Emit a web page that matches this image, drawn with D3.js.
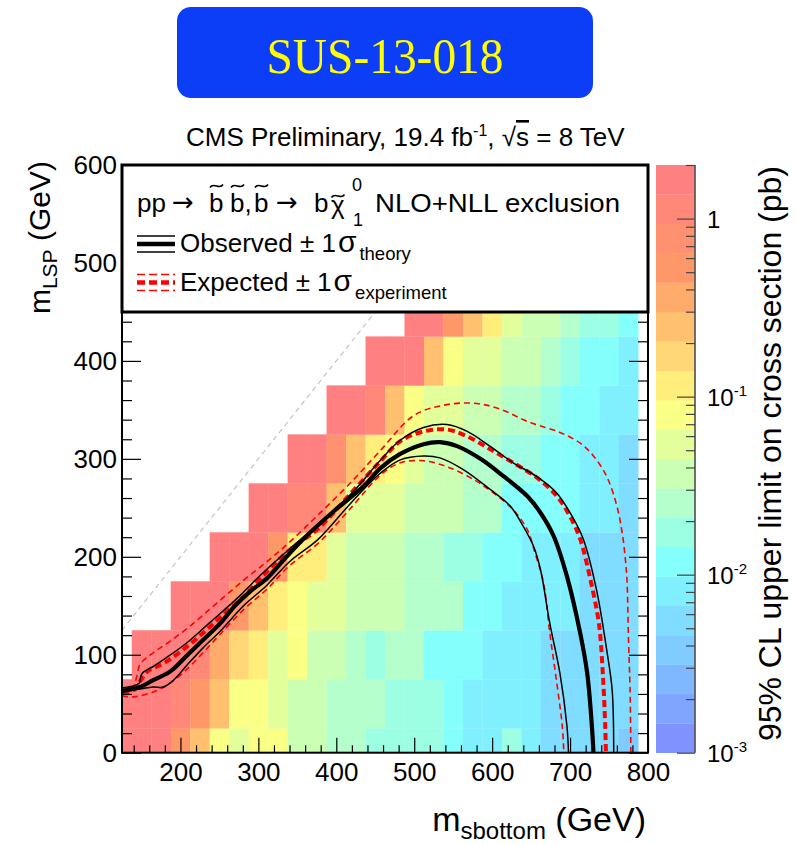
<!DOCTYPE html>
<html>
<head>
<meta charset="utf-8">
<script src="https://cdn.jsdelivr.net/npm/d3@7"></script>
<style>
body { margin: 0; background: #fff; }
svg text { font-family: "Liberation Sans", Arial, Helvetica, sans-serif; }
</style>
</head>
<body>
<div id="chart"></div>
<script>
// scan grid
var msbottom = [125,150,175,200,225,250,275,300,325,350,375,400,425,450,475,500,525,550,575,600,625,650,675,700,725,750,775]
var mlsp = [0,50,100,150,200,250,300,350,400,450]

// 95% CL upper limit on cross section (pb), one array per mLSP row (null = no point)
var limit0   = [1.7,1.7,1.7,0.53,0.25,0.079,0.054,0.079,0.079,0.037,0.037,0.025,0.025,0.017,0.017,0.017,0.017,0.012,0.0081,0.0081,0.017,0.0081,0.0055,0.0055,0.0055,0.0055,0.0038]
var limit50  = [1.7,1.7,1.7,1.1,0.53,0.25,0.079,0.079,0.054,0.037,0.037,0.025,0.025,0.025,0.017,0.017,0.017,0.012,0.0081,0.0081,0.0081,0.0081,0.0055,0.0055,0.0055,0.0055,0.0055]
var limit100 = [null,1.7,1.7,1.7,1.1,0.36,0.2,0.12,0.054,0.079,0.037,0.037,0.025,0.017,0.025,0.025,0.012,0.012,0.012,0.0081,0.0081,0.0081,0.0055,0.0055,0.0055,0.0055,0.0055]
var limit150 = [null,null,null,1.7,1.7,1.7,0.53,0.25,0.12,0.079,0.054,0.054,0.037,0.037,0.037,0.025,0.025,0.025,0.012,0.012,0.0081,0.0081,0.0081,0.0081,0.0055,0.0055,0.0055]
var limit200 = [null,null,null,null,null,1.7,1.7,1.7,0.53,0.12,0.12,0.054,0.037,0.037,0.037,0.025,0.025,0.017,0.017,0.012,0.012,0.0081,0.0081,0.0081,0.0055,0.0055,0.0055]
var limit250 = [null,null,null,null,null,null,null,1.7,1.7,1.1,1.1,0.21,0.054,0.054,0.054,0.037,0.037,0.037,0.025,0.025,0.012,0.012,0.012,0.012,0.0081,0.0081,0.0055]
var limit300 = [null,null,null,null,null,null,null,null,null,1.7,1.7,0.77,0.25,0.12,0.079,0.054,0.037,0.037,0.025,0.025,0.017,0.017,0.012,0.012,0.0081,0.0081,0.0055]
var limit350 = [null,null,null,null,null,null,null,null,null,null,null,1.7,1.7,1.1,0.25,0.079,0.054,0.054,0.037,0.037,0.025,0.025,0.017,0.012,0.012,0.0081,0.0081]
var limit400 = [null,null,null,null,null,null,null,null,null,null,null,null,null,1.7,1.7,1.7,0.25,0.079,0.054,0.054,0.037,0.037,0.025,0.017,0.012,0.012,0.0081]
var limit450 = [null,null,null,null,null,null,null,null,null,null,null,null,null,null,null,1.7,1.7,0.53,0.25,0.12,0.054,0.037,0.037,0.025,0.017,0.017,0.012]
var limitRows = [limit0,limit50,limit100,limit150,limit200,limit250,limit300,limit350,limit400,limit450]

// exclusion contours, [m_sbottom, m_LSP]
var observed = [[125,63],[148,67],[165,74],[187,83],[208,99],[229,115],[251,132],[270,150],[290,165],[311,178],[336,200],[360,220],[396,246],[435,272],[456,290],[482,305],[512,315],[533,317],[555,313],[585,300],[615,282],[645,262],[662,245],[679,221],[696,180],[713,122],[722,81],[728,27],[730,0]]
var observedUp = [[125,66],[147,71],[149,78],[152,82],[165,88],[182,97],[208,112],[238,133],[272,157],[305,183],[340,208],[377,233],[420,265],[456,298],[482,319],[512,332],[542,335],[568,328],[597,313],[627,296],[657,282],[683,265],[700,245],[717,218],[734,166],[747,105],[754,64],[756,0]]
var observedDown = [[125,62],[148,65],[165,67],[178,67],[191,74],[208,89],[229,107],[251,124],[281,150],[311,171],[340,195],[377,218],[420,256],[456,285],[482,299],[512,303],[533,301],[563,289],[597,269],[623,252],[640,231],[653,211],[662,187],[674,132],[687,81],[696,27],[698,0]]
var expected = [[125,61],[140,64],[150,75],[159,84],[170,88],[182,93],[208,108],[230,123],[251,138],[278,157],[311,185],[340,207],[377,229],[420,266],[456,297],[482,318],[512,328],[542,330],[568,323],[597,310],[627,296],[657,281],[683,262],[700,241],[713,218],[726,177],[737,132],[742,81],[745,30],[746,0]]
var expectedUp = [[125,62],[135,63],[140,68],[144,78],[148,90],[165,102],[187,114],[215,131],[247,153],[281,176],[311,195],[340,215],[377,243],[420,277],[456,308],[499,344],[533,354],[572,357],[606,352],[649,337],[687,327],[713,316],[730,303],[747,282],[760,252],[767,224],[771,197],[773,177],[775,115],[777,64],[778,0]]
var expectedDown = [[125,58],[140,57],[165,62],[185,70],[208,85],[230,103],[251,121],[281,146],[311,167],[340,191],[377,214],[420,251],[456,283],[482,296],[512,298],[542,292],[576,279],[602,265],[627,248],[645,228],[655,204],[666,173],[674,122],[683,71],[690,27],[692,0]]

var xTicks = [200,300,400,500,600,700,800]
var yTicks = [0,100,200,300,400,500,600]
var zTicks = [0.001,0.01,0.1,1]
var zRange = [0.001, 2]

var plot = {left: 122, right: 648, top: 165, bottom: 752.7}
var nLevels = 20

var svg = d3.select("#chart").append("svg")
    .attr("width", 796).attr("height", 845)

var x = d3.scaleLinear().domain([125, 800]).range([plot.left, plot.right])
var y = d3.scaleLinear().domain([0, 600]).range([plot.bottom, plot.top])
var z = d3.scaleLog().domain(zRange).range([plot.bottom, plot.top])

// pastel rainbow palette used for SUSY limit plots
var palette = d3.scaleLinear()
  .domain([0, 0.34, 0.61, 0.84, 1])
  .range(["#8080ff","#80ffff","#ffff80","#ff9966","#ff8080"])
  .interpolate(d3.interpolateRgb)

var lz0 = Math.log10(zRange[0]), lz1 = Math.log10(zRange[1])
var levelOf = function(v){
  var k = Math.floor((Math.log10(v) - lz0) / (lz1 - lz0) * nLevels)
  return Math.max(0, Math.min(nLevels - 1, k))
}
var levelColor = function(k){ return palette((k + 0.99) / nLevels) }

// title box
svg.append("rect")
  .attr("x", 177).attr("y", 7).attr("width", 416).attr("height", 91)
  .attr("rx", 14).attr("fill", "#0d3ef7")
svg.append("text")
  .attr("x", 385).attr("y", 73).attr("text-anchor", "middle")
  .attr("font-size", 50).attr("fill", "#ffff00")
  .style("font-family", "'Liberation Serif', 'Times New Roman', serif")
  .attr("textLength", 237).attr("lengthAdjust", "spacingAndGlyphs")
  .text("SUS-13-018")

var head = svg.append("text").attr("x", 186).attr("y", 146).attr("font-size", 26)
head.append("tspan").text("CMS Preliminary, 19.4 fb")
head.append("tspan").attr("font-size", 16).attr("dy", -10).text("-1")
head.append("tspan").attr("dy", 10).text(", \u221a")
head.append("tspan").style("text-decoration", "overline").text("s")
head.append("tspan").text(" = 8 TeV")

// clip
svg.append("clipPath").attr("id", "plotClip")
  .append("rect").attr("x", plot.left).attr("y", plot.top)
  .attr("width", plot.right - plot.left).attr("height", plot.bottom - plot.top)

var area = svg.append("g").attr("clip-path", "url(#plotClip)")

// cells
var cells = []
limitRows.forEach(function(row, j){
  row.forEach(function(v, i){
    if (v != null) cells.push({m: msbottom[i], l: mlsp[j], v: v})
  })
})
area.selectAll("rect.cell")
  .data(cells)
  .enter()
  .append("rect")
    .attr("class", "cell")
    .attr("x", function(d){ return x(Math.max(d.m - 12.5, 125)) })
    .attr("width", function(d){ return x(Math.min(d.m + 12.5, 800)) - x(Math.max(d.m - 12.5, 125)) + 0.3 })
    .attr("y", function(d){ return y(Math.min(d.l + 25, 600)) })
    .attr("height", function(d){ return y(Math.max(d.l - 25, 0)) - y(Math.min(d.l + 25, 600)) + 0.3 })
    .attr("fill", function(d){ return levelColor(levelOf(d.v)) })

// kinematic diagonal
area.append("line")
  .attr("x1", x(125)).attr("y1", y(125)).attr("x2", x(600)).attr("y2", y(600))
  .attr("stroke", "#c4c4c4").attr("stroke-width", 1.2).attr("stroke-dasharray", "5,4")

var line = d3.line()
  .x(function(d){ return x(d[0]) })
  .y(function(d){ return y(d[1]) })
  .curve(d3.curveCatmullRom.alpha(0.5))

var curves = [
  {data: expectedUp, color: "#ff0000", width: 1.6, dash: "6,4"},
  {data: expectedDown, color: "#ff0000", width: 1.6, dash: "6,4"},
  {data: expected, color: "#ff0000", width: 4, dash: "7,4"},
  {data: observedUp, color: "#000", width: 1.5, dash: null},
  {data: observedDown, color: "#000", width: 1.5, dash: null},
  {data: observed, color: "#000", width: 4.2, dash: null}
]
curves.forEach(function(c){
  area.append("path")
    .datum(c.data)
    .attr("fill", "none")
    .attr("stroke", c.color)
    .attr("stroke-width", c.width)
    .attr("stroke-dasharray", c.dash)
    .attr("d", line)
})

// axes
var minor = function(step, lo, hi, major){
  return d3.range(lo, hi + 1, step).filter(function(v){ return major.indexOf(v) < 0 })
}
var styleAxis = function(g, fs){
  g.select(".domain").remove()
  g.selectAll(".tick line").attr("stroke", "#000").attr("stroke-width", 1.2)
  g.selectAll(".tick text").attr("fill", "#000").attr("font-size", fs)
    .style("font-family", "'Liberation Sans', Arial, sans-serif")
}

var gx = svg.append("g").attr("transform", "translate(0," + plot.bottom + ")")
  .call(d3.axisBottom(x).tickValues(xTicks).tickSize(-15).tickPadding(10).tickFormat(d3.format("d")))
styleAxis(gx, 26)
var gx2 = svg.append("g").attr("transform", "translate(0," + plot.bottom + ")")
  .call(d3.axisBottom(x).tickValues(minor(20, 140, 800, xTicks)).tickSize(-7.5).tickFormat(""))
styleAxis(gx2, 26)

var gy = svg.append("g").attr("transform", "translate(" + plot.left + ",0)")
  .call(d3.axisLeft(y).tickValues(yTicks).tickSize(-19).tickPadding(5).tickFormat(d3.format("d")))
styleAxis(gy, 26)
var gy2 = svg.append("g").attr("transform", "translate(" + plot.left + ",0)")
  .call(d3.axisLeft(y).tickValues(minor(20, 0, 600, yTicks)).tickSize(-10).tickFormat(""))
styleAxis(gy2, 26)
var gr = svg.append("g").attr("transform", "translate(" + plot.right + ",0)")
  .call(d3.axisRight(y).tickValues(yTicks).tickSize(-19).tickFormat(""))
styleAxis(gr, 26)
var gr2 = svg.append("g").attr("transform", "translate(" + plot.right + ",0)")
  .call(d3.axisRight(y).tickValues(minor(20, 0, 600, yTicks)).tickSize(-10).tickFormat(""))
styleAxis(gr2, 26)

svg.append("rect")
  .attr("x", plot.left).attr("y", plot.top)
  .attr("width", plot.right - plot.left).attr("height", plot.bottom - plot.top)
  .attr("fill", "none").attr("stroke", "#000").attr("stroke-width", 2)

// axis titles
var xt = svg.append("text").attr("x", 646).attr("y", 831).attr("text-anchor", "end").attr("font-size", 34)
xt.append("tspan").text("m")
xt.append("tspan").attr("font-size", 24).attr("dy", 8).text("sbottom")
xt.append("tspan").attr("dy", -8).text(" (GeV)")

var yt = svg.append("text").attr("transform", "translate(50,161) rotate(-90)")
  .attr("text-anchor", "end").attr("font-size", 30)
yt.append("tspan").text("m")
yt.append("tspan").attr("font-size", 21).attr("dy", 7).text("LSP")
yt.append("tspan").attr("dy", -7).text(" (GeV)")

// legend
var leg = svg.append("g")
leg.append("rect")
  .attr("x", plot.left).attr("y", plot.top).attr("width", plot.right - plot.left).attr("height", 147)
  .attr("fill", "#fff").attr("stroke", "#000").attr("stroke-width", 3)

var tilde = function(cx, cy){
  leg.append("path")
    .attr("d", "M" + (cx - 6.5) + "," + (cy + 1.5) + " C" + (cx - 3) + "," + (cy - 4.5) + " " + (cx + 3) + "," + (cy + 4.5) + " " + (cx + 6.5) + "," + (cy - 1.5))
    .attr("fill", "none").attr("stroke", "#000").attr("stroke-width", 1.6)
}
var proc = [["pp",137,212],["b",209,212],["b,",230,212],["b",254,212],["b",314,212],["\u03c7",331,214]]
proc.forEach(function(p){
  leg.append("text").attr("x", p[1]).attr("y", p[2]).attr("font-size", 26).text(p[0])
})
;[172, 276].forEach(function(ax){
  leg.append("text").attr("x", ax).attr("y", 211).attr("font-size", 26)
    .style("font-family", "'DejaVu Sans', sans-serif").text("\u2192")
})
;[216.5, 237.5, 261.5].forEach(function(cx){ tilde(cx, 186) })
tilde(338, 196)
leg.append("text").attr("x", 352).attr("y", 191).attr("font-size", 18).text("0")
leg.append("text").attr("x", 353).attr("y", 226).attr("font-size", 18).text("1")
leg.append("text").attr("x", 375).attr("y", 212).attr("font-size", 26)
  .attr("textLength", 245).attr("lengthAdjust", "spacingAndGlyphs").text("NLO+NLL exclusion")

var legendLabels = ["Observed", "Expected"]
var legendSubs = ["theory", "experiment"]
var legendColors = ["#000", "#ff0000"]
var legendDash = [null, "8,4"]
legendLabels.forEach(function(lab, i){
  var yc = 244 + i * 38.5
  ;[[-8, 1.5], [0, 4.5], [8, 1.5]].forEach(function(s){
    leg.append("line")
      .attr("x1", 137).attr("x2", 175).attr("y1", yc + s[0]).attr("y2", yc + s[0])
      .attr("stroke", legendColors[i]).attr("stroke-width", s[1])
      .attr("stroke-dasharray", legendDash[i])
  })
  var t = leg.append("text").attr("x", 180).attr("y", yc + 8).attr("font-size", 26)
  t.append("tspan").text(lab + " \u00b1 1")
  t.append("tspan").attr("font-size", 30).attr("dx", 2).text("\u03c3")
  t.append("tspan").attr("font-size", 18.5).attr("dx", 3).attr("dy", 8).text(legendSubs[i])
})

// colour bar
var cb = svg.append("g")
var cbX = 656, cbW = 39
var edges = d3.range(nLevels + 1).map(function(k){ return Math.pow(10, lz0 + k * (lz1 - lz0) / nLevels) })
cb.selectAll("rect.band")
  .data(d3.range(nLevels))
  .enter()
  .append("rect")
    .attr("class", "band")
    .attr("x", cbX).attr("width", cbW)
    .attr("y", function(k){ return z(edges[k + 1]) })
    .attr("height", function(k){ return z(edges[k]) - z(edges[k + 1]) + 0.3 })
    .attr("fill", function(k){ return levelColor(k) })

var zMinor = []
;[0.001, 0.01, 0.1, 1].forEach(function(d){
  for (var m = 2; m <= 9; m++) if (d * m <= zRange[1] + 1e-9) zMinor.push(d * m)
})
var gz = cb.append("g").attr("transform", "translate(" + (cbX + cbW) + ",0)")
  .call(d3.axisRight(z).tickValues(zTicks).tickSize(-18).tickFormat(""))
var gz2 = cb.append("g").attr("transform", "translate(" + (cbX + cbW) + ",0)")
  .call(d3.axisRight(z).tickValues(zMinor).tickSize(-9).tickFormat(""))
;[gz, gz2].forEach(function(g){
  g.select(".domain").attr("stroke", "#555").attr("stroke-width", 1.2).attr("d", "M0," + plot.top + "V" + plot.bottom)
  g.selectAll(".tick line").attr("stroke", "#444").attr("stroke-width", 1.2)
})

zTicks.forEach(function(t){
  var lab = cb.append("text").attr("x", 707).attr("y", z(t) + 9).attr("font-size", 24)
  if (t == 1) lab.text("1")
  else {
    lab.append("tspan").text("10")
    lab.append("tspan").attr("font-size", 15).attr("dy", -10).text(Math.round(Math.log10(t)))
  }
})

svg.append("text")
  .attr("transform", "translate(781,166) rotate(-90)")
  .attr("text-anchor", "end").attr("font-size", 32)
  .text("95% CL upper limit on cross section (pb)")
</script>
</body>
</html>
